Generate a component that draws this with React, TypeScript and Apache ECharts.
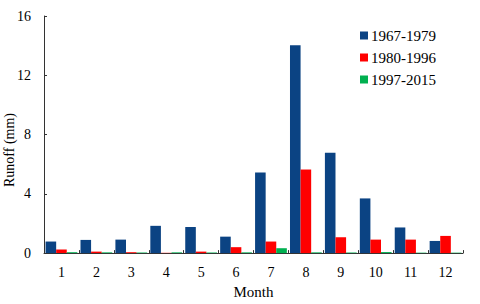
import React, { useEffect, useRef } from "react";
import * as echarts from "echarts";

const months = ["1", "2", "3", "4", "5", "6", "7", "8", "9", "10", "11", "12"];
const seriesNames = ["1967-1979", "1980-1996", "1997-2015"];
const runoff1967 = [0.78, 0.89, 0.91, 1.84, 1.76, 1.11, 5.44, 14.02, 6.78, 3.69, 1.73, 0.82];
const runoff1980 = [0.25, 0.1, 0.06, 0.02, 0.1, 0.4, 0.78, 5.64, 1.07, 0.91, 0.91, 1.16];
const runoff1997 = [0.06, 0.05, 0.04, 0.05, 0.04, 0.05, 0.33, 0.05, 0.04, 0.07, 0.03, 0.03];
const yTicks = [0, 4, 8, 12, 16];
const colors = ["#0B4383", "#FF0000", "#00B050"];

const FONT = "'Liberation Serif', 'Times New Roman', serif";

export default function App() {
  const ref = useRef<HTMLDivElement>(null);
  useEffect(() => {
    if (!ref.current) return;
    const chart = echarts.init(ref.current, undefined, { renderer: "svg" });
    const data = [runoff1967, runoff1980, runoff1997];
    chart.setOption({
      animation: false,
      backgroundColor: "#ffffff",
      textStyle: { fontFamily: FONT, color: "#000" },
      grid: { left: 44, right: 17, top: 16, bottom: 48 },
      legend: {
        orient: "vertical",
        left: 355,
        top: 23,
        itemWidth: 8,
        itemHeight: 8,
        itemGap: 7,
        icon: "rect",
        textStyle: { fontFamily: FONT, fontSize: 15, color: "#000", padding: [0, 0, 0, -2] },
        data: seriesNames,
      },
      xAxis: {
        type: "category",
        data: months,
        name: "Month",
        nameLocation: "middle",
        nameGap: 30,
        nameTextStyle: { fontFamily: FONT, fontSize: 15, color: "#000" },
        axisLine: { lineStyle: { color: "#333", width: 1 } },
        axisTick: { show: true, inside: true, length: 3, alignWithLabel: false, lineStyle: { color: "#333" } },
        axisLabel: { fontFamily: FONT, fontSize: 14, color: "#000", margin: 12 },
        splitLine: { show: false },
      },
      yAxis: {
        type: "value",
        min: yTicks[0],
        max: yTicks[yTicks.length - 1],
        interval: yTicks[1] - yTicks[0],
        axisLine: { show: true, lineStyle: { color: "#333", width: 1 } },
        axisTick: { show: true, inside: true, length: 3, lineStyle: { color: "#333" } },
        axisLabel: { fontFamily: FONT, fontSize: 14, color: "#000", margin: 13 },
        splitLine: { show: false },
      },
      graphic: [
        {
          type: "text",
          x: 9,
          y: 150,
          rotation: Math.PI / 2,
          style: {
            text: "Runoff (mm)",
            fontFamily: FONT,
            fontSize: 14,
            fill: "#000",
            align: "center",
            verticalAlign: "middle",
          },
        },
      ],
      series: seriesNames.map((name, i) => ({
        name,
        type: "bar",
        data: data[i],
        barGap: "0%",
        barCategoryGap: "9%",
        itemStyle: { color: colors[i] },
      })),
    });
    return () => chart.dispose();
  }, []);
  return (
    <div
      ref={ref}
      style={{ position: "fixed", left: 0, top: 0, width: 480, height: 304 }}
    />
  );
}
